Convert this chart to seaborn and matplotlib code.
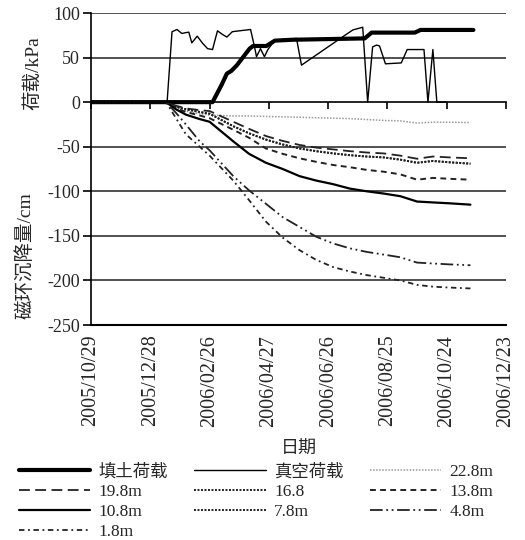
import pandas as pd
import numpy as np
import matplotlib
matplotlib.use('Agg')
import matplotlib.pyplot as plt
import matplotlib.dates as mdates
import seaborn as sns

sns.set_theme(style='white')
plt.rcParams['font.family'] = ['Liberation Serif', 'Noto Sans CJK SC']
plt.rcParams['axes.unicode_minus'] = False

start = pd.Timestamp('2005-10-29')

# ---- 荷载 (kPa) ----
fill_days = [0, 123, 132, 137.5, 142, 147.7, 160.5, 164, 177.5, 186, 204, 277, 284, 327.7, 333.5, 387]
fill_load = [0, 0, 19, 32, 35, 41.5, 60, 63, 63, 69, 70, 71.5, 78, 78, 81, 81]

vac_days = [0, 77, 82, 87, 92, 96, 99, 102, 107.5, 113, 118, 123, 128, 133, 137.5, 143, 150,
            161.5, 165.5, 167.5, 171.5, 175.5, 179, 186, 208, 213, 257, 265, 275, 280, 285,
            289, 292, 298, 314, 320, 337, 341, 346, 350, 360]
vac_load = [0, 0, 79, 81.5, 77, 78, 78.5, 66.5, 74, 66, 60, 59, 80, 76, 73, 79, 80,
            81.5, 62, 51, 60, 51, 59, 69.5, 71.5, 41.5, 75, 81, 84, 0, 62,
            64, 63, 43, 44, 59, 59, 0, 59, 0, 0]

# ---- 磁环沉降量 (cm) ----
set_days = [0, 40, 76, 86, 96, 110, 120, 144, 160, 177, 194, 211, 228, 245, 262, 279, 296, 313, 330, 346, 363, 384]
s_22_8 = [0, 0, 0, -6, -10, -13, -14.5, -15.5, -15.5, -16, -16.5, -17, -17.5, -18, -18.5, -19.5, -20.5, -21, -23.5, -22.5, -22.5, -23]
s_19_8 = [0, 0, 0, -4, -7, -9, -10, -22, -30, -38, -43.5, -48, -51, -53, -55, -56.5, -57.5, -60, -63.5, -61, -62, -63]
s_16_8 = [0, 0, 0, -5, -8, -11, -13, -27, -35, -42, -47.5, -52, -55, -57.5, -59.5, -61, -62, -64.5, -68, -66, -67.5, -69]
s_13_8 = [0, 0, 0, -7, -11, -15, -18, -31, -40, -52, -58, -63, -67, -70.5, -73, -76, -78, -81, -87, -85, -86, -87]
s_10_8 = [0, 0, 0, -8, -14, -19, -22, -44, -58, -68, -75, -83, -88, -92, -97, -100, -102.5, -105.5, -111.5, -112.5, -113.5, -115]
s_7_8 = [0, 0, 0, -5, -8, -11, -13, -27, -35, -42, -47.5, -52, -55, -57.5, -59.5, -61, -62, -64.5, -68, -66, -67.5, -69]
s_4_8 = [0, 0, 0, -12, -25, -44, -54, -83, -99, -114, -129, -140, -151, -158.5, -164, -168, -171, -174, -180, -181, -182, -183]
s_1_8 = [0, 0, 0, -18, -36, -50, -60, -88, -110, -134, -152, -166, -177, -185, -190, -194, -197, -200, -205, -207, -208, -209]

labels = ['填土荷载', '真空荷载', '22.8m', '19.8m', '16.8', '13.8m', '10.8m', '7.8m', '4.8m', '1.8m']
tick_dates = pd.date_range('2005-10-29', periods=8, freq='60D')


def to_dates(days):
    return start + pd.to_timedelta(np.array(days), unit='D')


fig = plt.figure(figsize=(5.25, 5.4), dpi=100)
ax = fig.add_axes([91 / 525, 1 - 325 / 540, (506 - 91) / 525, (325 - 13) / 540])

# 网格线
for yv in [100, 50, -50, -100, -150, -200]:
    ax.axhline(yv, color='#333333', lw=1.2, zorder=0)

series = [
    (fill_days, fill_load, dict(color='black', lw=3.0, ls='-')),
    (vac_days, vac_load, dict(color='black', lw=1.0, ls='-')),
    (set_days, s_22_8, dict(color='#999999', lw=1.1, ls=(0, (1, 1)))),
    (set_days, s_19_8, dict(color='#222222', lw=1.3, ls=(0, (6, 3)))),
    (set_days, s_16_8, dict(color='#222222', lw=1.4, ls=(0, (1, 0.8)))),
    (set_days, s_13_8, dict(color='#222222', lw=1.4, ls=(0, (3, 2.2)))),
    (set_days, s_10_8, dict(color='black', lw=1.6, ls='-')),
    (set_days, s_7_8, dict(color='#222222', lw=1.4, ls=(0, (1, 0.8)))),
    (set_days, s_4_8, dict(color='#222222', lw=1.3, ls=(0, (7, 2, 1, 2, 1, 2)))),
    (set_days, s_1_8, dict(color='#222222', lw=1.3, ls=(0, (3, 2, 1, 2)))),
]

handles = []
for (d, v, kw), lab in zip(series, labels):
    sns.lineplot(x=to_dates(d), y=v, ax=ax, estimator=None, sort=False,
                 color=kw['color'], lw=kw['lw'], linestyle=kw['ls'], label=lab, legend=False)
    handles.append(ax.get_lines()[-1])

ax.set_xlabel('')
ax.set_ylabel('')
ax.set_ylim(-250, 100)
ax.set_yticks(np.arange(-250, 101, 50))
ax.set_xlim(tick_dates[0], tick_dates[-1])

for sp in ['top', 'right']:
    ax.spines[sp].set_visible(False)
ax.spines['left'].set_color('black')
ax.spines['left'].set_linewidth(1.2)
ax.spines['bottom'].set_position(('data', 0))
ax.spines['bottom'].set_color('black')
ax.spines['bottom'].set_linewidth(1.2)

ax.set_xticks(tick_dates)
ax.tick_params(axis='x', direction='out', length=5, width=1.2, color='black', labelbottom=False, bottom=True)
ax.tick_params(axis='y', direction='out', length=6, width=1.2, color='black', left=True, labelsize=13, pad=2)

# 底部日期标签
sec = ax.secondary_xaxis(0)
sec.set_xticks(tick_dates)
sec.xaxis.set_major_formatter(mdates.DateFormatter('%Y/%m/%d'))
sec.tick_params(axis='x', length=0, labelsize=14.5, labelrotation=90, pad=7)
sec.spines['bottom'].set_color('black')
sec.spines['bottom'].set_linewidth(1.5)
sec.set_xlabel('日期', fontsize=13, labelpad=10)

fig.text(33 / 525, 1 - 73 / 540, '荷载/kPa', rotation=90, ha='center', va='center', fontsize=14)
fig.text(25 / 525, 1 - 256 / 540, '磁环沉降量/cm', rotation=90, ha='center', va='center', fontsize=14)

# 图例按行排列
order = [0, 3, 6, 9, 1, 4, 7, 2, 5, 8]
leg = fig.legend([handles[i] for i in order], [labels[i] for i in order],
                 loc='upper left', bbox_to_anchor=(19 / 525, 1 - 464 / 540), ncol=3, frameon=False,
                 fontsize=12.5, handlelength=4.1, handletextpad=0.5, columnspacing=1.5,
                 labelspacing=0.22, borderaxespad=0, borderpad=0)

fig.savefig('out.png', dpi=100)
